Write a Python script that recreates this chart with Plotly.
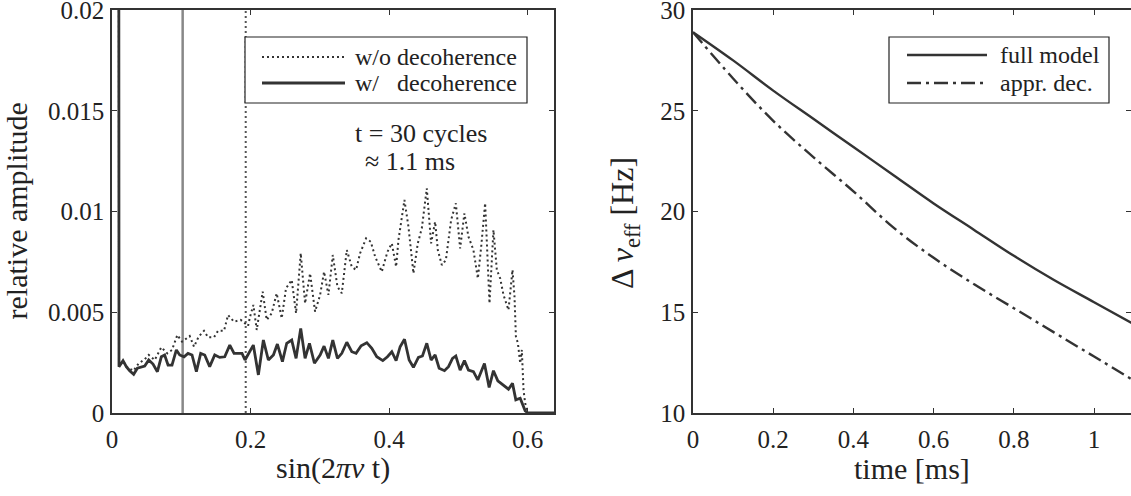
import plotly.graph_objects as go

# ---------------- left panel data ----------------
wo_x = [0.0095, 0.0101, 0.0159, 0.0207, 0.0255, 0.031, 0.0385, 0.0472, 0.053, 0.0616, 0.0712,
        0.0799, 0.0866, 0.0943, 0.1011, 0.1122, 0.1184, 0.1251, 0.1328, 0.1386, 0.1473, 0.1531,
        0.1617, 0.1675, 0.1762, 0.1858, 0.1964, 0.1993, 0.2041, 0.2089, 0.2175, 0.2233, 0.2305,
        0.2377, 0.2450, 0.2512, 0.2594, 0.2657, 0.2724, 0.2787, 0.2859, 0.2931, 0.3004, 0.3061,
        0.3124, 0.3187, 0.3254, 0.3317, 0.3389, 0.3461, 0.3523, 0.3581, 0.3668, 0.3735, 0.3798,
        0.3846, 0.3894, 0.3976, 0.4039, 0.4101, 0.4135, 0.4221, 0.4279, 0.4351, 0.4414, 0.4472,
        0.4544, 0.4606, 0.4664, 0.4703, 0.4761, 0.4819, 0.4895, 0.4963, 0.5025, 0.5087, 0.5145,
        0.5217, 0.5281, 0.5329, 0.5386, 0.5449, 0.5506, 0.5555, 0.5603, 0.5651, 0.5723, 0.5781,
        0.5810, 0.5830, 0.5859, 0.5892, 0.5916, 0.5940, 0.5964, 0.6003, 0.61, 0.62, 0.63, 0.64]
wo_y = [0.05, 0.0023, 0.0026, 0.0023, 0.0022, 0.0021, 0.00246, 0.00266, 0.00288, 0.00263, 0.00326,
        0.00296, 0.00313, 0.00387, 0.00354, 0.00382, 0.00329, 0.00379, 0.00408, 0.00376, 0.00376, 0.00408,
        0.00408, 0.00486, 0.00453, 0.00462, 0.00432, 0.00478, 0.00536, 0.00412, 0.00602, 0.00462, 0.00495,
        0.00594, 0.00470, 0.00619, 0.00660, 0.00495, 0.00793, 0.00544, 0.00693, 0.00503, 0.00586, 0.00701,
        0.00586, 0.00784, 0.00627, 0.00594, 0.00809, 0.00726, 0.00710, 0.00793, 0.00867, 0.00850, 0.00776,
        0.00734, 0.00701, 0.00800, 0.00842, 0.00726, 0.00859, 0.01057, 0.00925, 0.00693, 0.00842, 0.00917,
        0.01115, 0.00842, 0.00949, 0.00809, 0.00734, 0.00759, 0.00958, 0.01041, 0.00817, 0.00991, 0.00875,
        0.00809, 0.00668, 0.00825, 0.01041, 0.00544, 0.00908, 0.00710, 0.00668, 0.00586, 0.00511, 0.00710,
        0.00577, 0.00379, 0.00346, 0.00247, 0.00313, 0.00114, 0.00048, 0.0, 0.0, 0.0, 0.0, 0.0]

w_x = [0.0095, 0.0101, 0.0159, 0.0207, 0.0255, 0.0313, 0.0366, 0.0424, 0.0472, 0.0530, 0.0592, 0.0655,
       0.0712, 0.0760, 0.0809, 0.0866, 0.0929, 0.0977, 0.1040, 0.1097, 0.1155, 0.1218, 0.1280, 0.1338,
       0.1410, 0.1483, 0.1555, 0.1627, 0.1700, 0.1762, 0.1820, 0.1877, 0.1920, 0.2040, 0.2113, 0.2185,
       0.2257, 0.2330, 0.2387, 0.2460, 0.2522, 0.2594, 0.2657, 0.2724, 0.2787, 0.2850, 0.2922, 0.3004,
       0.3061, 0.3124, 0.3187, 0.3254, 0.3317, 0.3389, 0.3461, 0.3523, 0.3596, 0.3678, 0.3750, 0.3822,
       0.3909, 0.3976, 0.4039, 0.4101, 0.4159, 0.4222, 0.4289, 0.4351, 0.4423, 0.4481, 0.4544, 0.4606,
       0.4664, 0.4722, 0.4799, 0.4857, 0.4915, 0.4963, 0.5025, 0.5087, 0.5145, 0.5217, 0.5280, 0.5376,
       0.5444, 0.5506, 0.5569, 0.5651, 0.5723, 0.5781, 0.5829, 0.5892, 0.5925, 0.5964, 0.6003, 0.61,
       0.62, 0.63, 0.64]
w_y = [0.05, 0.00230, 0.00260, 0.00230, 0.00210, 0.00192, 0.00222, 0.00230, 0.00233, 0.00263, 0.00243, 0.00205,
       0.00279, 0.00288, 0.00238, 0.00238, 0.00313, 0.00288, 0.00279, 0.00296, 0.00288, 0.00205, 0.00296, 0.00288,
       0.00230, 0.00288, 0.00276, 0.00279, 0.00337, 0.00296, 0.00296, 0.00296, 0.00263, 0.00337, 0.00189, 0.00362,
       0.00263, 0.00288, 0.00342, 0.00255, 0.00346, 0.00362, 0.00271, 0.00420, 0.00271, 0.00346, 0.00247, 0.00288,
       0.00332, 0.00271, 0.00362, 0.00271, 0.00296, 0.00351, 0.00304, 0.00296, 0.00334, 0.00349, 0.00321, 0.00279,
       0.00260, 0.00279, 0.00304, 0.00260, 0.00329, 0.00366, 0.00263, 0.00227, 0.00276, 0.00283, 0.00346, 0.00263,
       0.00288, 0.00222, 0.00210, 0.00230, 0.00271, 0.00283, 0.00213, 0.00260, 0.00213, 0.00205, 0.00164, 0.00246,
       0.00127, 0.00210, 0.00160, 0.00139, 0.00118, 0.00147, 0.00065, 0.00073, 0.00048, 0.00011, 0.0, 0.0,
       0.0, 0.0, 0.0]

vline_gray_x = 0.102
vline_dot_x = 0.193

left_xticks = [0, 0.2, 0.4, 0.6]
left_xticklabels = ["0", "0.2", "0.4", "0.6"]
left_yticks = [0, 0.005, 0.01, 0.015, 0.02]
left_yticklabels = ["0", "0.005", "0.01", "0.015", "0.02"]
left_legend_labels = ["w/o decoherence", "w/\u00a0\u00a0\u00a0decoherence"]

# ---------------- right panel data ----------------
t_ms = [0.0, 0.1, 0.2, 0.3, 0.4, 0.5, 0.6, 0.7, 0.8, 0.9, 1.0, 1.1]
full_model = [28.9, 27.5, 26.0, 24.6, 23.2, 21.8, 20.4, 19.1, 17.8, 16.6, 15.5, 14.4]
appr_dec = [28.9, 26.6, 24.5, 22.7, 21.0, 19.2, 17.7, 16.4, 15.2, 14.0, 12.8, 11.6]

right_xticks = [0, 0.2, 0.4, 0.6, 0.8, 1.0]
right_xticklabels = ["0", "0.2", "0.4", "0.6", "0.8", "1"]
right_yticks = [10, 15, 20, 25, 30]
right_yticklabels = ["10", "15", "20", "25", "30"]
right_legend_labels = ["full model", "appr. dec."]

FONT = "Liberation Serif"
INK = "#333333"
TXT = "#222222"
W, H = 1131, 496
DOT = "2px,3px"
DASHDOT = "14px,5px,3px,5px"


def px(xp):
    return xp / W


def py(yp):
    return (H - yp) / H


fig = go.Figure()

fig.add_trace(go.Scatter(x=wo_x, y=wo_y, mode="lines", name=left_legend_labels[0],
                         line=dict(color=INK, width=2, dash=DOT),
                         xaxis="x", yaxis="y", showlegend=False))
fig.add_trace(go.Scatter(x=w_x, y=w_y, mode="lines", name=left_legend_labels[1],
                         line=dict(color=INK, width=2.8),
                         xaxis="x", yaxis="y", showlegend=False))
fig.add_trace(go.Scatter(x=t_ms, y=full_model, mode="lines", name=right_legend_labels[0],
                         line=dict(color=INK, width=2.4, shape="spline"),
                         xaxis="x2", yaxis="y2", showlegend=False))
fig.add_trace(go.Scatter(x=t_ms, y=appr_dec, mode="lines", name=right_legend_labels[1],
                         line=dict(color=INK, width=2.4, shape="spline", dash=DASHDOT),
                         xaxis="x2", yaxis="y2", showlegend=False))

# vertical markers in left panel
fig.add_shape(type="line", xref="x", yref="y domain", x0=vline_gray_x, x1=vline_gray_x, y0=0, y1=1,
              line=dict(color="#888888", width=2.5), layer="below")
fig.add_shape(type="line", xref="x", yref="y domain", x0=vline_dot_x, x1=vline_dot_x, y0=0, y1=1,
              line=dict(color="#555555", width=2, dash=DOT), layer="below")

# ---- legend boxes (drawn as paper shapes so sample lines can be long) ----
legend_specs = [
    dict(box=(245, 37, 527, 103), line_x=(262, 345), text_x=353,
         rows=[(57, DOT, 2, left_legend_labels[0]), (83, None, 2.8, left_legend_labels[1])]),
    dict(box=(889, 37, 1109, 103), line_x=(907, 987), text_x=998,
         rows=[(55, None, 2.4, right_legend_labels[0]), (83, DASHDOT, 2.4, right_legend_labels[1])]),
]
annotations = []
for spec in legend_specs:
    x0, y0, x1, y1 = spec["box"]
    fig.add_shape(type="rect", xref="paper", yref="paper", x0=px(x0), x1=px(x1), y0=py(y1), y1=py(y0),
                  line=dict(color=TXT, width=1.2), fillcolor="white", layer="above")
    for ry, dash, lw, label in spec["rows"]:
        ld = dict(color=INK, width=lw)
        if dash:
            ld["dash"] = dash
        fig.add_shape(type="line", xref="paper", yref="paper", x0=px(spec["line_x"][0]),
                      x1=px(spec["line_x"][1]), y0=py(ry), y1=py(ry), line=ld, layer="above")
        annotations.append(dict(text=label, x=px(spec["text_x"]), y=py(ry), xref="paper", yref="paper",
                                xanchor="left", yanchor="middle", showarrow=False,
                                font=dict(family=FONT, size=24, color=TXT)))

axis_common = dict(showline=True, linecolor=INK, linewidth=1.5, mirror="ticks", ticks="inside",
                   ticklen=5, tickcolor=INK, tickwidth=1, showgrid=False, zeroline=False,
                   automargin=False, ticklabeloverflow="allow",
                   tickfont=dict(family=FONT, size=25, color=TXT))

x_left = (112 / W, 554 / W)
x_right = (693 / W, 1.0)
y_dom = ((H - 413) / H, (H - 10) / H)

fig.update_layout(
    width=W, height=H,
    margin=dict(l=0, r=0, t=0, b=0, pad=0),
    paper_bgcolor="white", plot_bgcolor="white",
    font=dict(family=FONT, color=TXT),
    showlegend=False,
    xaxis=dict(domain=x_left, range=[0, 0.638], tickvals=left_xticks, ticktext=left_xticklabels,
               anchor="y", ticklabelstandoff=3, **axis_common),
    yaxis=dict(domain=y_dom, range=[0, 0.02], tickvals=left_yticks, ticktext=left_yticklabels,
               anchor="x", ticklabelstandoff=1, **axis_common),
    xaxis2=dict(domain=x_right, range=[0, 1.092], tickvals=right_xticks, ticktext=right_xticklabels,
                anchor="y2", ticklabelstandoff=3, **axis_common),
    yaxis2=dict(domain=y_dom, range=[10, 30], tickvals=right_yticks, ticktext=right_yticklabels,
                anchor="x2", ticklabelstandoff=1, **axis_common),
)

annotations += [
    dict(text="t = 30 cycles", x=0.446, y=0.01385, xref="x", yref="y", showarrow=False,
         xanchor="center", yanchor="middle", font=dict(family=FONT, size=26, color=TXT)),
    dict(text="\u2248 1.1 ms", x=0.430, y=0.01246, xref="x", yref="y", showarrow=False,
         xanchor="center", yanchor="middle", font=dict(family=FONT, size=26, color=TXT)),
    dict(text="relative amplitude", x=px(16), y=py(211.5), xref="paper", yref="paper",
         xanchor="center", yanchor="middle", textangle=-90, showarrow=False,
         font=dict(family=FONT, size=30, color=TXT)),
    dict(text="\u0394 <i>\u03bd</i><sub>eff</sub>\u00a0[Hz]", x=px(624), y=py(223),
         xref="paper", yref="paper", xanchor="center", yanchor="middle", textangle=-90, showarrow=False,
         font=dict(family=FONT, size=32, color=TXT)),
    dict(text="sin(2<i>\u03c0\u03bd</i> t)", x=px(333), y=py(468), xref="paper", yref="paper",
         xanchor="center", yanchor="middle", showarrow=False, font=dict(family=FONT, size=30, color=TXT)),
    dict(text="time [ms]", x=px(912), y=py(468), xref="paper", yref="paper",
         xanchor="center", yanchor="middle", showarrow=False, font=dict(family=FONT, size=30, color=TXT)),
]
fig.update_layout(annotations=annotations)

fig.write_html("out.html")
